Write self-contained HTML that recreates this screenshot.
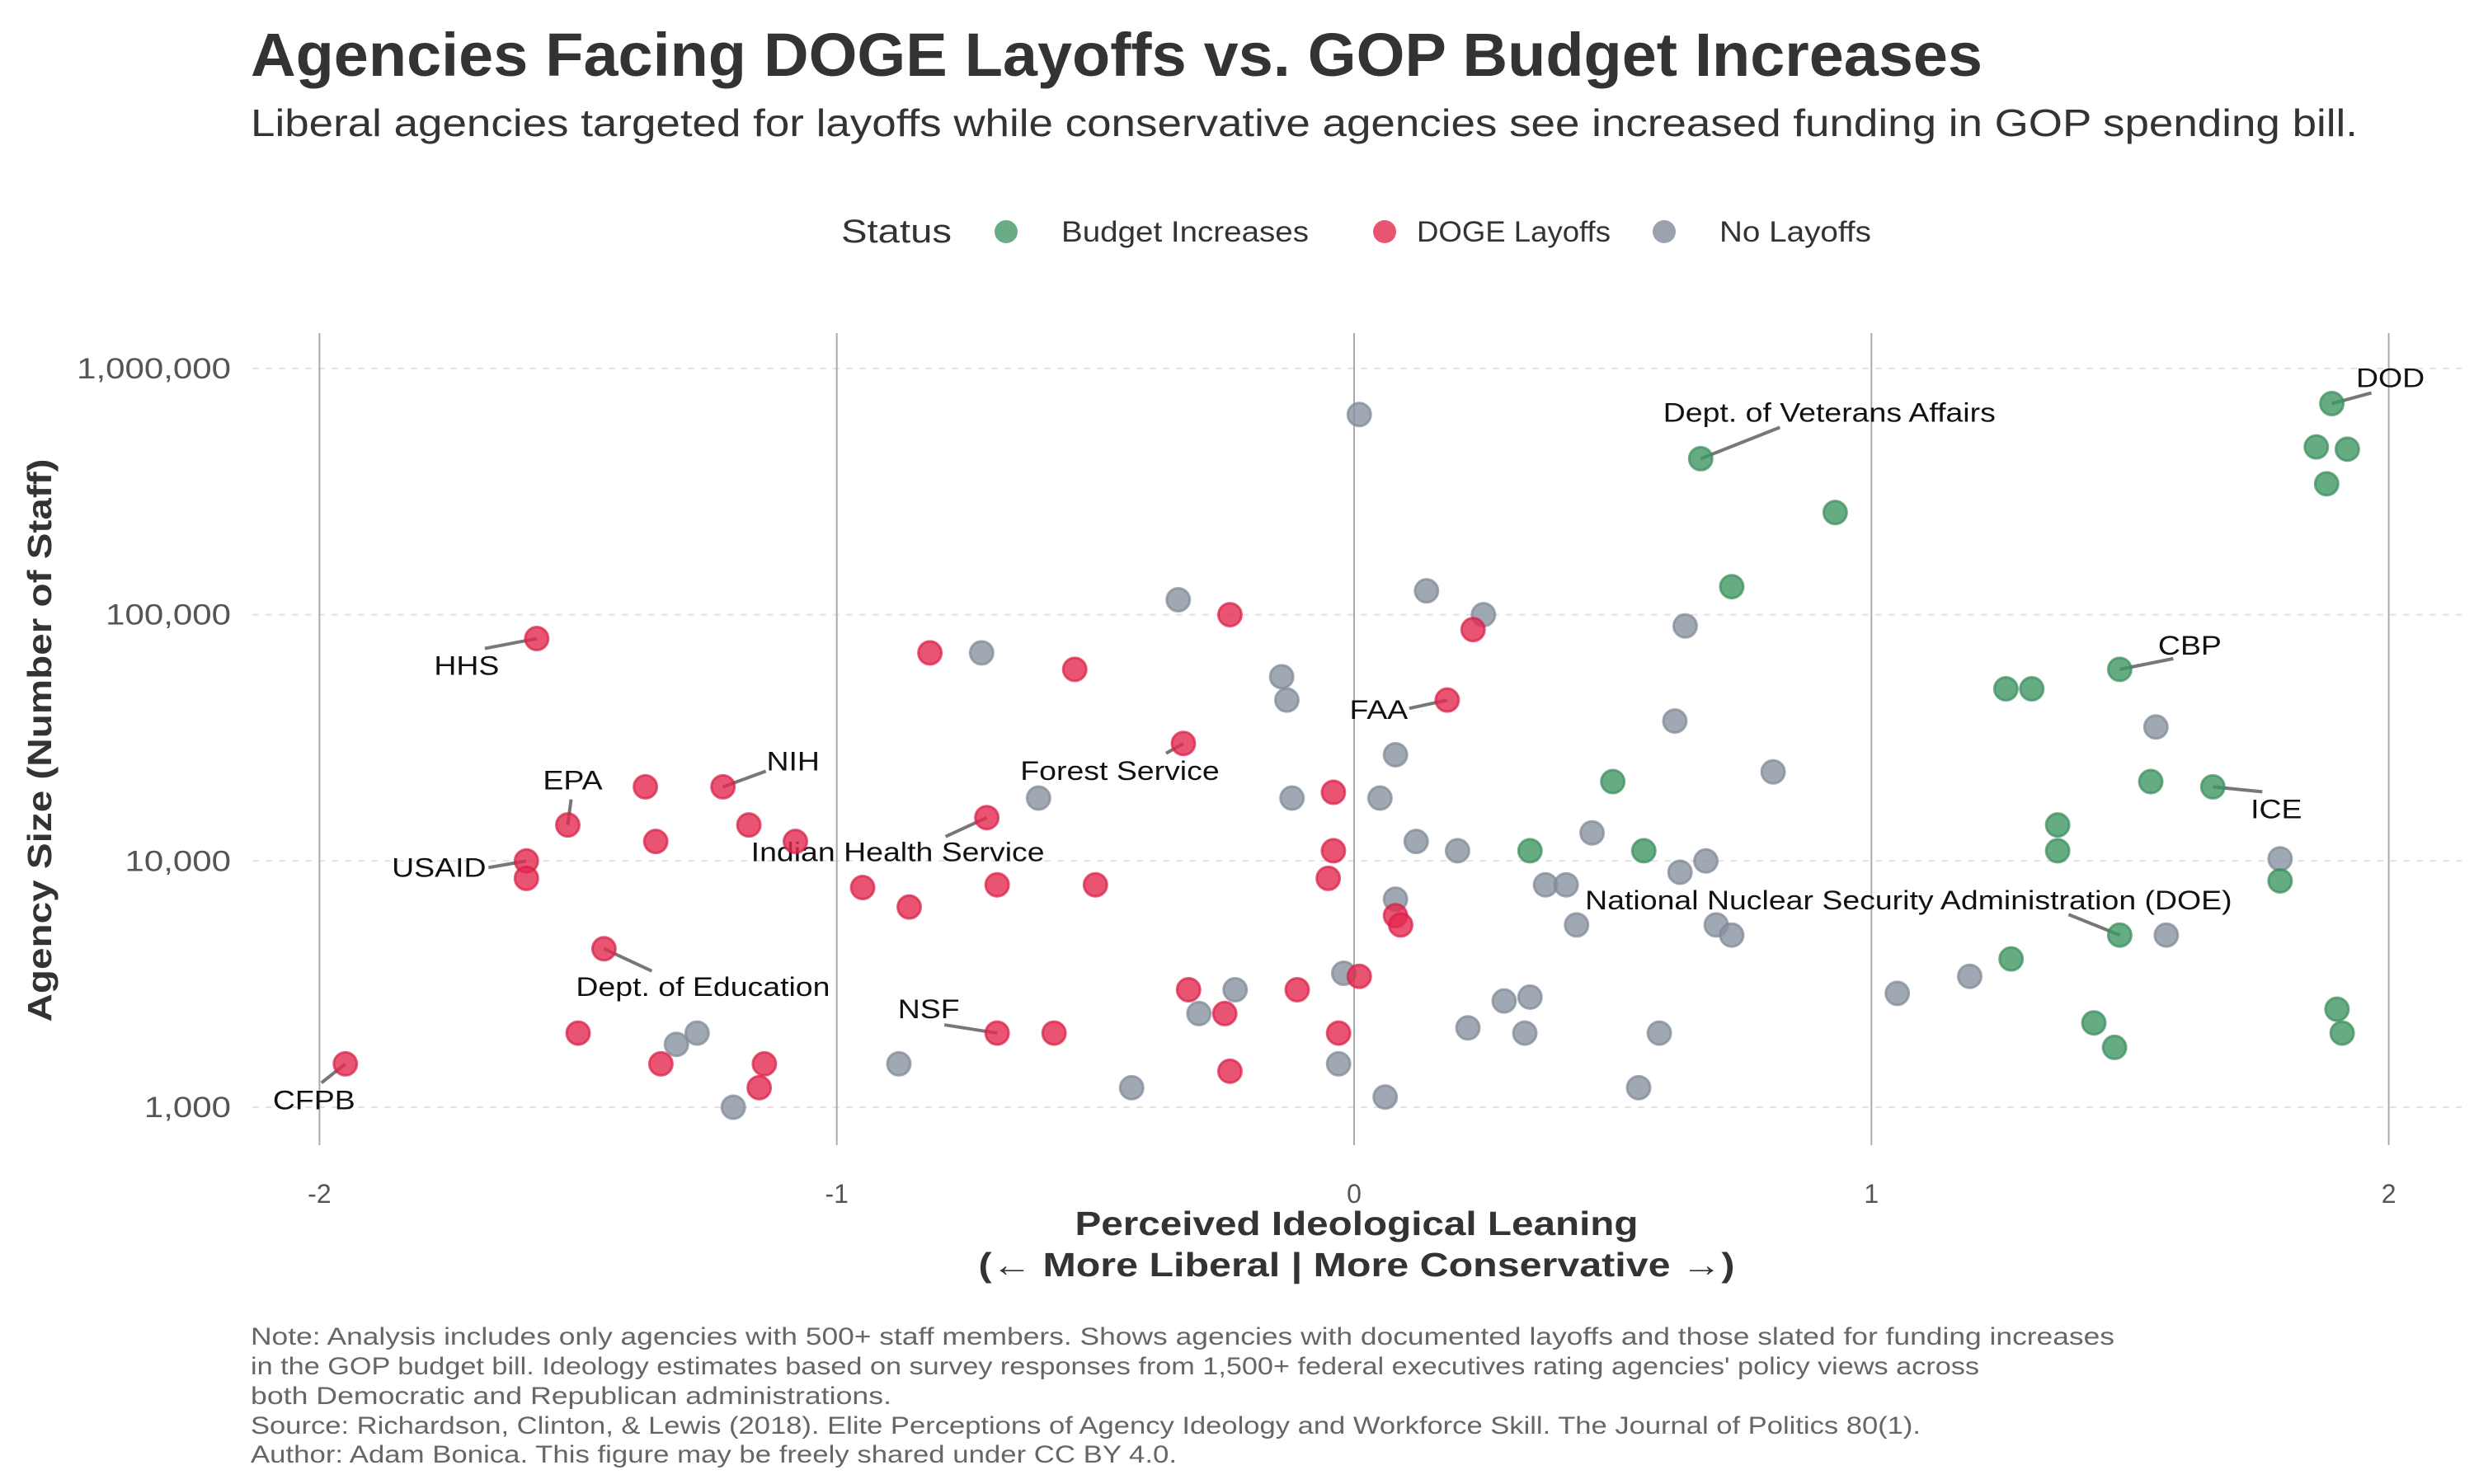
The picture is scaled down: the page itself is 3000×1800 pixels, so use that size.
<!DOCTYPE html>
<html><head><meta charset="utf-8"><style>
html,body{margin:0;padding:0;background:#fff;}
svg{display:block;font-family:"Liberation Sans","DejaVu Sans",sans-serif;}
</style></head><body>
<svg id="chart" width="3000" height="1800" viewBox="0 0 3000 1800" xmlns="http://www.w3.org/2000/svg">
<text x="304" y="92" font-size="74" font-weight="bold" fill="#333" textLength="2100" lengthAdjust="spacingAndGlyphs">Agencies Facing DOGE Layoffs vs. GOP Budget Increases</text>
<text x="304" y="165" font-size="46" fill="#333" textLength="2555" lengthAdjust="spacingAndGlyphs">Liberal agencies targeted for layoffs while conservative agencies see increased funding in GOP spending bill.</text>
<g>
<text x="1020" y="294" font-size="40" fill="#333" textLength="134" lengthAdjust="spacingAndGlyphs">Status</text>
<circle cx="1220" cy="281" r="14" fill="#4f9e70" fill-opacity="0.85"/>
<text x="1287" y="293" font-size="35" fill="#333" textLength="300" lengthAdjust="spacingAndGlyphs">Budget Increases</text>
<circle cx="1679" cy="281" r="14" fill="#e2294f" fill-opacity="0.8"/>
<text x="1718" y="293" font-size="35" fill="#333" textLength="235" lengthAdjust="spacingAndGlyphs">DOGE Layoffs</text>
<circle cx="2018" cy="281" r="14" fill="#8892a1" fill-opacity="0.85"/>
<text x="2085" y="293" font-size="35" fill="#333" textLength="184" lengthAdjust="spacingAndGlyphs">No Layoffs</text>
</g>
<g id="grid"></g>
<g id="axes"></g>
<g id="labels"></g>
<g id="points"></g>
<text x="1645" y="1498" font-size="41" font-weight="bold" fill="#333" text-anchor="middle" textLength="683" lengthAdjust="spacingAndGlyphs">Perceived Ideological Leaning</text>
<text x="1645" y="1548" font-size="41" font-weight="bold" fill="#333" text-anchor="middle" textLength="917" lengthAdjust="spacingAndGlyphs">(← More Liberal | More Conservative →)</text>
<text transform="translate(62,898) rotate(-90)" font-size="41" font-weight="bold" fill="#333" text-anchor="middle" textLength="683" lengthAdjust="spacingAndGlyphs">Agency Size (Number of Staff)</text>
<g font-size="30" fill="#666">
<text x="304" y="1631" textLength="2260" lengthAdjust="spacingAndGlyphs">Note: Analysis includes only agencies with 500+ staff members. Shows agencies with documented layoffs and those slated for funding increases</text>
<text x="304" y="1667" textLength="2096" lengthAdjust="spacingAndGlyphs">in the GOP budget bill. Ideology estimates based on survey responses from 1,500+ federal executives rating agencies' policy views across</text>
<text x="304" y="1703" textLength="777" lengthAdjust="spacingAndGlyphs">both Democratic and Republican administrations.</text>
<text x="304" y="1739" textLength="2025" lengthAdjust="spacingAndGlyphs">Source: Richardson, Clinton, &amp; Lewis (2018). Elite Perceptions of Agency Ideology and Workforce Skill. The Journal of Politics 80(1).</text>
<text x="304" y="1774" textLength="1123" lengthAdjust="spacingAndGlyphs">Author: Adam Bonica. This figure may be freely shared under CC BY 4.0.</text>
</g>
</svg>
<script>
const xTicks = [-2, -1, 0, 1, 2];
const xTickLabels = ["-2", "-1", "0", "1", "2"];
const yTicks = [1000, 10000, 100000, 1000000];
const yTickLabels = ["1,000", "10,000", "100,000", "1,000,000"];

const dogeX = [-1.95,-1.58,-1.52,-1.6,-1.6,-1.37,-1.35,-1.22,-1.17,-1.08,-1.45,-1.5,-1.34,-1.14,-1.15,-0.95,-0.86,-0.82,-0.71,-0.69,-0.54,-0.5,-0.33,-0.24,-0.32,-0.69,-0.58,-0.25,-0.24,-0.11,-0.04,-0.04,-0.05,-0.03,0.01,0.23,0.18,0.08,0.09];
const dogeY = [1500,80000,14000,10000,8500,20000,12000,20000,14000,12000,4400,2000,1500,1500,1200,7800,6500,70000,15000,8000,60000,8000,30000,100000,3000,2000,2000,2400,1400,3000,19000,11000,8500,2000,3400,87000,45000,6000,5500];

const noneX = [0.01,-0.34,-0.72,-0.14,-0.13,0.14,0.25,0.64,0.08,-0.61,-0.12,0.05,0.62,0.81,0.12,0.2,0.46,0.68,0.63,0.37,0.41,0.08,0.43,0.7,0.73,-0.02,-0.23,-0.3,0.29,0.34,0.22,0.33,0.59,-0.03,0.06,0.55,-0.43,-0.88,-1.2,-1.31,-1.27,1.55,1.79,1.57,1.19,1.05];
const noneY = [650000,115000,70000,56000,45000,125000,100000,90000,27000,18000,18000,18000,37000,23000,12000,11000,13000,10000,9000,8000,8000,7000,5500,5500,5000,3500,3000,2400,2700,2800,2100,2000,2000,1500,1100,1200,1200,1500,1000,1800,2000,35000,10200,5000,3400,2900];

const budgetX = [1.89,1.86,1.92,1.88,0.67,0.93,0.73,1.48,1.26,1.31,1.54,1.66,0.5,1.36,1.36,0.34,0.56,1.79,1.48,1.27,1.43,1.47,1.9,1.91];
const budgetY = [720000,480000,470000,340000,430000,260000,130000,60000,50000,50000,21000,20000,21000,14000,11000,11000,11000,8300,5000,4000,2200,1750,2500,2000];

const labelNames = ["CFPB","HHS","EPA","USAID","NIH","Dept. of Education","Indian Health Service","Forest Service","NSF","FAA","Dept. of Veterans Affairs","CBP","ICE","National Nuclear Security Administration (DOE)","DOD"];
const labelX = [-1.95,-1.58,-1.52,-1.6,-1.22,-1.45,-0.71,-0.33,-0.69,0.18,0.67,1.48,1.66,1.48,1.89];
const labelY = [1500,80000,14000,10000,20000,4400,15000,30000,2000,45000,430000,60000,20000,5000,720000];
// label offsets (pixels): text dx, dy, line-end dx, dy
const labelOff = [[-38,44,-29,23],[-85,33,-63,12],[6,-54,4,-31],[-106,8,-46,8],[85,-31,52,-19],[120,46,58,27],[-108,42,-50,23],[-77,33,-21,12],[-83,-29,-64,-10],[-83,12,-46,10],[156,-56,96,-38],[85,-29,65,-13],[77,27,60,6],[-256,-42,-62,-25],[71,-31,48,-13]];

const X0 = 1642, XU = 627.3, Y3 = 1343, YD = 298.7;
const PL = 306, PR = 2985, PT = 404, PB = 1389;
function sx(v){ return X0 + v*XU; }
function sy(v){ return Y3 - (Math.log10(v)-3)*YD; }
const NS = "http://www.w3.org/2000/svg";
function mk(tag, attrs, parent){ const e=document.createElementNS(NS,tag); for(const k in attrs) e.setAttribute(k,attrs[k]); parent.appendChild(e); return e; }
function widen(el,f){ const w=el.getComputedTextLength(); el.setAttribute('textLength', w*f); el.setAttribute('lengthAdjust','spacingAndGlyphs'); }

const grid = document.getElementById('grid');
const axes = document.getElementById('axes');
yTicks.forEach((t,i)=>{
  const l = mk('line',{x1:PL,x2:PR,y1:sy(t),y2:sy(t),stroke:'#e3e3e3','stroke-width':2,'stroke-dasharray':'8,8'},grid);
  
  
  const tx = mk('text',{x:280,y:sy(t)+12,'font-size':35,fill:'#555','text-anchor':'end'},axes);
  tx.textContent = yTickLabels[i];
  
  
  widen(tx,1.2);
});
xTicks.forEach((t,i)=>{
  const l = mk('line',{x1:sx(t),x2:sx(t),y1:PT,y2:PB,stroke:'#aaa','stroke-width':2},grid);
  
  
  const tx = mk('text',{x:sx(t),y:1459,'font-size':32,fill:'#555','text-anchor':'middle'},axes);
  tx.textContent = xTickLabels[i];
  
  
});

const lab = document.getElementById('labels');
labelNames.forEach((n,i)=>{
  const px=sx(labelX[i]), py=sy(labelY[i]), o=labelOff[i];
  const ln = mk('line',{x1:px,y1:py,x2:px+o[2],y2:py+o[3],stroke:'#777','stroke-width':4},lab);
  
  
  const t = mk('text',{x:px+o[0],y:py+o[1]+11,'font-size':32,fill:'#111','text-anchor':'middle'},lab);
  t.textContent = n;
  
  
  widen(t,1.17);
});

const pts = document.getElementById('points');
function series(xs, ys, fill, stroke, name){
  xs.forEach((x,i)=>{
    const c = mk('circle',{cx:sx(x),cy:sy(ys[i]),r:14,fill:fill,'fill-opacity':0.8,stroke:stroke,'stroke-opacity':0.7,'stroke-width':3},pts);
    
    
  });
}
series(noneX, noneY, '#8892a1', '#7d8796', 'point-no-layoffs');
series(dogeX, dogeY, '#e2294f', '#d91e46', 'point-doge-layoffs');
series(budgetX, budgetY, '#3f9764', '#3a8c5c', 'point-budget-increases');
</script>
</body></html>
